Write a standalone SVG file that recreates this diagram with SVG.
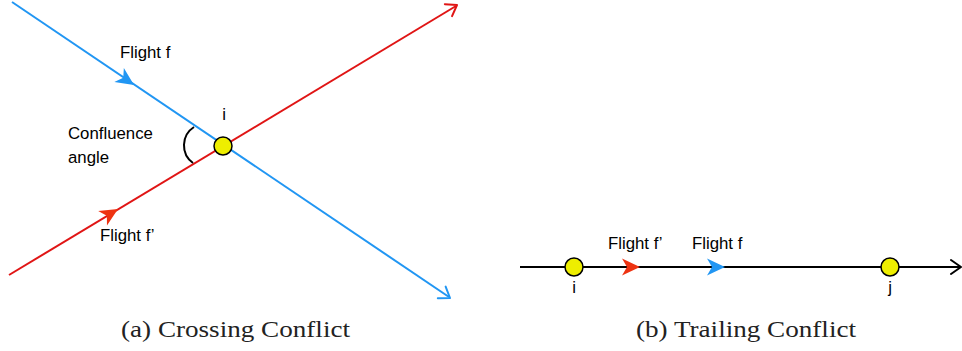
<svg xmlns="http://www.w3.org/2000/svg" width="962" height="351" viewBox="0 0 962 351">
<style>
.lbl{font-family:"Liberation Sans",Arial,sans-serif;font-size:16.8px;fill:#000}
.cap{font-family:"Liberation Serif","Times New Roman",serif;font-size:24px;fill:#222}
.node{fill:#eeee00;stroke:#000;stroke-width:1.5}
.blue{stroke:#2196f3;stroke-width:2;fill:none}
.red{stroke:#e01515;stroke-width:2;fill:none}
.blk{stroke:#000;stroke-width:2;fill:none}
</style>
<defs>
<path id="stealth" d="M0,0 L-18,-8.5 L-13,0 L-18,8.5 Z"/>
<path id="open" d="M-10,-7 L0,0 L-10,7" stroke-linecap="round" stroke-linejoin="round"/>
</defs>
<g id="connectors">
<line class="blue" x1="12" y1="2" x2="449" y2="297"/>
<line class="red" x1="9" y1="275" x2="456" y2="6"/>
<use href="#open" class="blue" transform="translate(450,298) rotate(34.05)"/>
<use href="#open" class="red" transform="translate(457,5) rotate(-31.08)"/>
<use href="#stealth" fill="#2196f3" transform="translate(134,85) rotate(34.05)"/>
<use href="#stealth" fill="#ee3311" transform="translate(118,209) rotate(-31.08)"/>
<path d="M194,127 A21.8,21.8 0 0 0 193,163" class="blk"/>
<line class="blk" x1="520" y1="267" x2="960" y2="267"/>
<use href="#open" class="blk" transform="translate(961,267)"/>
<use href="#stealth" fill="#ee3311" transform="translate(640,267)"/>
<use href="#stealth" fill="#2196f3" transform="translate(725,267)"/>
</g>
<g id="node-i-a">
<circle class="node" cx="223" cy="146" r="9"/>
<text class="lbl" x="224" y="120" text-anchor="middle">i</text>
</g>
<g id="node-i-b">
<circle class="node" cx="574" cy="267" r="9"/>
<text class="lbl" x="574" y="293" text-anchor="middle">i</text>
</g>
<g id="node-j-b">
<circle class="node" cx="890" cy="267" r="9"/>
<text class="lbl" x="890" y="293" text-anchor="middle">j</text>
</g>
<g id="labels">
<text class="lbl" x="120" y="58">Flight f</text>
<text class="lbl" x="100" y="241">Flight f’</text>
<text class="lbl" x="68" y="139">Confluence</text>
<text class="lbl" x="68" y="163">angle</text>
<text class="lbl" x="608" y="249">Flight f’</text>
<text class="lbl" x="692" y="249">Flight f</text>
<text class="cap" x="121" y="337" textLength="229" lengthAdjust="spacingAndGlyphs">(a) Crossing Conflict</text>
<text class="cap" x="636" y="337" textLength="220" lengthAdjust="spacingAndGlyphs">(b) Trailing Conflict</text>
</g>
</svg>
